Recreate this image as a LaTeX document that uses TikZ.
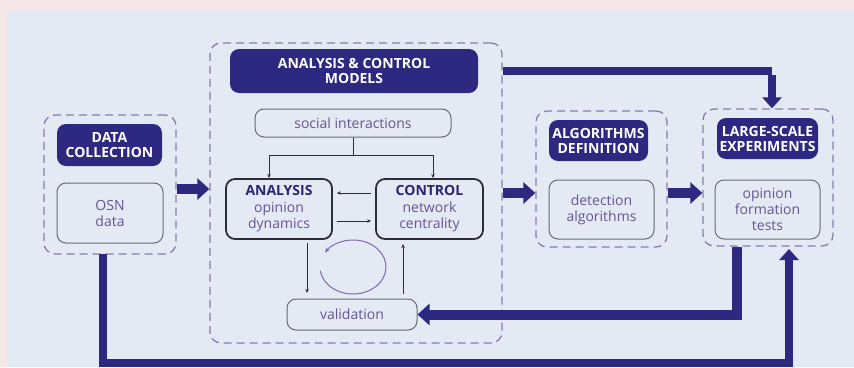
\documentclass[tikz,border=0pt]{standalone}
\usepackage{fontspec}
\setmainfont{Open Sans}
\usetikzlibrary{arrows.meta}
\definecolor{outerbg}{RGB}{245,230,232}
\definecolor{panelbg}{RGB}{228,234,243}
\definecolor{navy}{RGB}{45,40,128}
\definecolor{dashc}{RGB}{135,125,170}
\definecolor{softtxt}{RGB}{100,85,145}
\definecolor{boxline}{RGB}{105,105,115}
\definecolor{darkline}{RGB}{45,45,55}
\definecolor{loopc}{RGB}{125,105,175}
\tikzset{
  dashbox/.style={draw=dashc, line width=1.3pt, dash pattern=on 8pt off 5pt, rounded corners=11pt, inner sep=0pt},
  titlebox/.style={fill=navy, rounded corners=9pt, inner sep=0pt, text=white, font=\bfseries\fontsize{14}{15}\selectfont, align=center},
  softbox/.style={draw=boxline, line width=1pt, fill=panelbg, rounded corners=9pt, inner sep=0pt, text=softtxt, font=\fontsize{14}{16}\selectfont, align=center},
  hardbox/.style={draw=darkline, line width=1.8pt, rounded corners=9pt, inner sep=0pt, text=softtxt, font=\fontsize{14}{16}\selectfont, align=center},
  bigarrow/.style={draw=navy, line width=10pt, -{Triangle[length=12pt,width=21pt]}},
  bigline/.style={draw=navy, line width=8pt},
  smallarrow/.style={draw=darkline, line width=0.8pt, -{Stealth[length=4pt,width=3.5pt]}},
}
\newcommand{\hd}[1]{{\bfseries\color{navy!90!black}#1}}
\begin{document}
\begin{tikzpicture}[x=1pt,y=-1pt]
\useasboundingbox (0,0) rectangle (854,367);
\fill[outerbg] (0,0) rectangle (854,367);
\fill[panelbg] (7,12) rectangle (854,367);

% data collection
\node[dashbox, minimum width=132pt, minimum height=139pt] (dc) at (110,184.5) {};
\node[titlebox, minimum width=105pt, minimum height=42pt] (dct) at (109.5,145) {DATA\\COLLECTION};
\node[softbox, minimum width=106pt, minimum height=60pt] (osn) at (110,213) {OSN\\data};

% analysis & control
\node[dashbox, minimum width=292pt, minimum height=300pt] (ac) at (356,193) {};
\node[titlebox, minimum width=248pt, minimum height=44pt] (act) at (354,71) {ANALYSIS \& CONTROL\\MODELS};
\node[softbox, minimum width=196pt, minimum height=28pt] (soc) at (353,123) {social interactions};
\node[hardbox, minimum width=106pt, minimum height=60pt] (ana) at (279,209) {\hd{ANALYSIS}\\[1pt]opinion\\dynamics};
\node[hardbox, minimum width=107pt, minimum height=60pt] (ctl) at (429.5,209) {\hd{CONTROL}\\[1pt]network\\centrality};
\node[softbox, minimum width=130pt, minimum height=31pt] (val) at (352,314.5) {validation};

% algorithms
\node[dashbox, minimum width=131pt, minimum height=136pt] (alg) at (601.5,179) {};
\node[titlebox, minimum width=99pt, minimum height=41pt] (algt) at (598.5,140.5) {ALGORITHMS\\DEFINITION};
\node[softbox, minimum width=105pt, minimum height=59pt] (det) at (601.5,209.5) {detection\\algorithms};

% experiments
\node[dashbox, minimum width=130pt, minimum height=137pt] (exp) at (768,177.5) {};
\node[titlebox, minimum width=101pt, minimum height=41pt] (expt) at (767.5,138.5) {LARGE-SCALE\\EXPERIMENTS};
\node[softbox, minimum width=105pt, minimum height=59pt] (oft) at (767.5,209.5) {opinion\\formation\\tests};

% inner small connectors
\coordinate (split) at (353,155);
\draw[darkline, line width=0.8pt] (soc.south) -- (split);
\draw[smallarrow] (split) -| (269,178);
\draw[smallarrow] (split) -| (433,178);
\draw[smallarrow] ([xshift=-4pt]ctl.west |- 0,193) -- ([xshift=4pt]ana.east |- 0,193);
\draw[smallarrow] ([xshift=4pt]ana.east |- 0,221) -- ([xshift=-4pt]ctl.west |- 0,221);
\draw[smallarrow] (307,243) -- (307,293);
\draw[smallarrow] (403,294) -- (403,244);
\draw[loopc, line width=1pt, -{Stealth[length=5pt,width=4pt]}] (353,267) ++(172:33 and 27) arc[start angle=172, end angle=-148, x radius=33, y radius=27];

% big connectors
\draw[bigarrow] (dc.east |- 0,189) -- (ac.west |- 0,189);
\draw[bigarrow] (ac.east |- 0,193) -- (alg.west |- 0,193);
\draw[bigarrow] (alg.east |- 0,193) -- (exp.west |- 0,193);
\draw[bigline] (ac.east |- 0,71) -- (772,71) coordinate (tr);
\draw[draw=navy, line width=8pt, -{Triangle[length=11pt,width=19pt]}] ([yshift=-4pt]tr) -- (tr |- exp.north);
\draw[draw=navy, line width=10pt, -{Triangle[length=12pt,width=21pt]}] (737,247) |- (val.east);
\draw[draw=navy, line width=8pt, -{Triangle[length=11pt,width=19pt]}] (103,254) |- (789,363) -- (789,249);
\end{tikzpicture}
\end{document}
